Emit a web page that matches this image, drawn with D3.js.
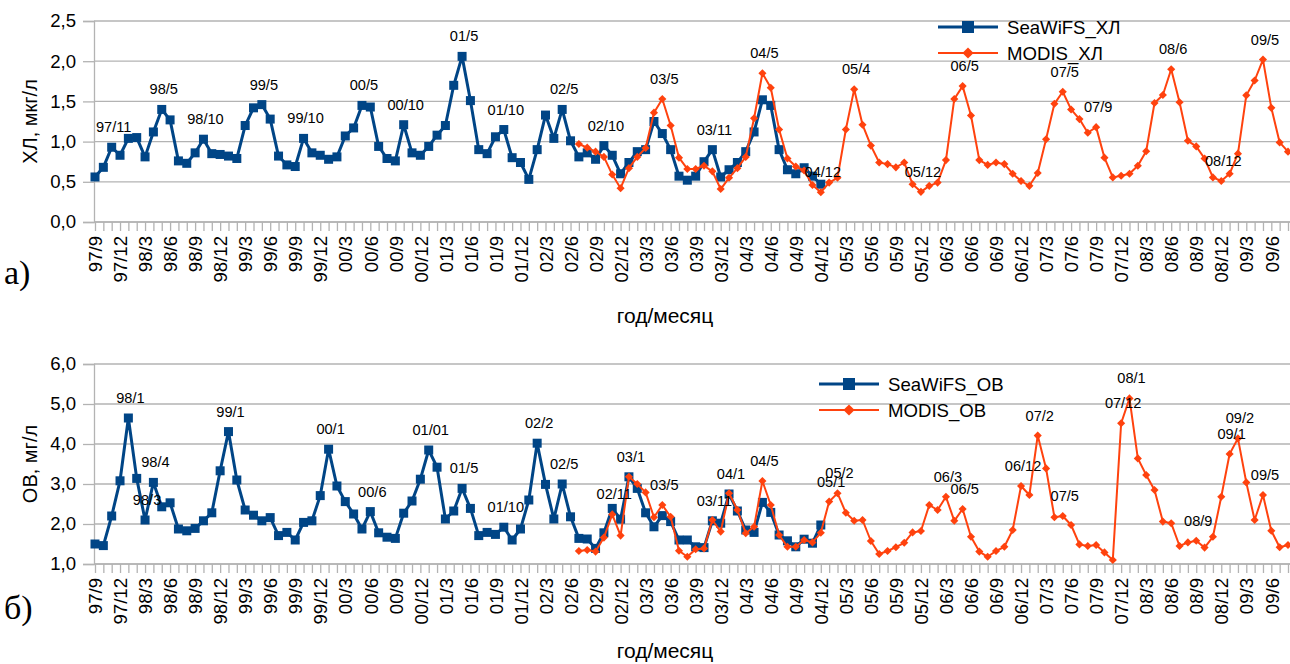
<!DOCTYPE html>
<html>
<head>
<meta charset="utf-8">
<script src="https://cdn.jsdelivr.net/npm/d3@7"></script>
<style>
  body { margin: 0; background: #fff; }
  svg { display: block; font-family: "Liberation Sans", Arial, sans-serif; }
  .grid line { stroke: #b3b3b3; stroke-width: 1.3; }
  .axis path, .axis line { stroke: #b3b3b3; stroke-width: 1.3; }
  .axis text { fill: #000; font-size: 18.6px; }
</style>
</head>
<body>
<div id="chart"></div>
<script>
// months 97/9 .. 09/8, one point per month
var startYear = 97, startMonth = 9, nMonths = 144;
var months = [];
for (var i = 0; i < nMonths; i++) {
  var mm = startMonth - 1 + i;
  var yy = (startYear + Math.floor(mm / 12)) % 100;
  months.push((yy < 10 ? "0" + yy : "" + yy) + "/" + (mm % 12 + 1));
}
// every third month gets a tick label
var tickLabels = months.filter(function(d, i) { return i % 3 === 0; });

// chlorophyll, mkg/l
var seawifsChlStart = "97/9";
var seawifsChl = [0.56,0.68,0.93,0.83,
  1.04,1.05,0.81,1.12,1.40,1.27,0.76,0.73,0.86,1.03,0.85,0.84,
  0.82,0.79,1.20,1.42,1.46,1.28,0.82,0.71,0.69,1.04,0.86,0.83,
  0.78,0.81,1.07,1.17,1.45,1.43,0.94,0.79,0.76,1.21,0.86,0.83,
  0.94,1.08,1.20,1.70,2.06,1.51,0.90,0.85,1.06,1.15,0.80,0.74,
  0.53,0.90,1.33,1.04,1.40,1.01,0.81,0.86,0.78,0.95,0.83,0.60,
  0.74,0.875,0.90,1.25,1.10,0.90,0.57,0.52,0.57,0.75,0.90,0.56,
  0.65,0.74,0.875,1.12,1.52,1.45,0.90,0.65,0.60,0.675,0.57,0.47];
var modisChlStart = "02/7";
var modisChl = [0.97,0.925,0.875,0.81,0.59,0.42,
  0.67,0.81,0.92,1.36,1.53,1.20,0.80,0.66,0.66,0.70,0.63,0.41,
  0.55,0.67,0.81,1.29,1.85,1.67,1.15,0.79,0.69,0.64,0.46,0.37,
  0.49,0.55,1.15,1.65,1.21,0.95,0.74,0.72,0.68,0.74,0.47,0.375,
  0.45,0.49,0.77,1.53,1.69,1.325,0.77,0.71,0.74,0.72,0.60,0.51,
  0.45,0.61,1.03,1.47,1.62,1.40,1.28,1.11,1.18,0.80,0.555,0.575,
  0.60,0.70,0.88,1.48,1.58,1.90,1.49,1.01,0.94,0.79,0.555,0.51,
  0.60,0.85,1.575,1.76,2.02,1.42,0.99,0.875];

// organic matter, mg/l
var seawifsOvStart = "97/9";
var seawifsOv = [1.50,1.46,2.20,3.08,
  4.65,3.14,2.10,3.04,2.43,2.53,1.875,1.83,1.89,2.08,2.28,3.33,
  4.31,3.10,2.35,2.22,2.08,2.16,1.71,1.79,1.60,2.04,2.08,2.71,
  3.87,2.95,2.56,2.25,1.875,2.31,1.78,1.67,1.64,2.27,2.575,3.12,
  3.85,3.42,2.125,2.325,2.89,2.39,1.71,1.79,1.74,1.92,1.60,1.875,
  2.60,4.02,2.99,2.125,3.00,2.18,1.64,1.625,1.39,1.78,2.39,2.12,
  3.18,2.89,2.28,1.93,2.21,2.06,1.60,1.60,1.43,1.41,2.08,2.02,
  2.75,2.325,1.85,1.79,2.54,2.29,1.725,1.58,1.43,1.62,1.52,1.975];
var modisOvStart = "02/7";
var modisOv = [1.325,1.35,1.31,1.66,2.24,1.71,
  3.18,3.00,2.79,2.17,2.475,2.18,1.33,1.18,1.37,1.39,2.10,1.81,
  2.77,2.35,1.77,1.93,3.075,2.475,1.725,1.43,1.43,1.60,1.54,1.78,
  2.56,2.77,2.28,2.08,2.10,1.575,1.25,1.325,1.42,1.53,1.79,1.825,
  2.475,2.35,2.68,2.08,2.375,1.68,1.31,1.18,1.325,1.43,1.85,2.95,
  2.725,4.21,3.39,2.17,2.20,1.975,1.49,1.45,1.475,1.29,1.10,4.52,
  5.14,3.64,3.225,2.85,2.06,2.02,1.45,1.54,1.58,1.41,1.68,2.68,
  3.75,4.14,3.04,2.10,2.725,1.83,1.42,1.475];

// point annotations: [month, text]
var chlSeaLabels = [["97/11","97/11"],["98/5","98/5"],["98/10","98/10"],["99/5","99/5"],
  ["99/10","99/10"],["00/5","00/5"],["00/10","00/10"],["01/5","01/5"],["01/10","01/10"],
  ["02/5","02/5"],["02/10","02/10"],["03/11","03/11"]];
var chlModisLabels = [["03/5","03/5"],["04/5","04/5"],["04/12","04/12"],["05/4","05/4"],
  ["05/12","05/12"],["06/5","06/5"],["07/5","07/5"],["07/9","07/9"],["08/6","08/6"],
  ["08/12","08/12"],["09/5","09/5"]];
var ovSeaLabels = [["98/1","98/1"],["98/3","98/3"],["98/4","98/4"],["99/1","99/1"],
  ["00/1","00/1"],["00/6","00/6"],["01/1","01/01"],["01/5","01/5"],["01/10","01/10"],
  ["02/2","02/2"],["02/5","02/5"],["03/11","03/11"],["04/1","04/1"]];
var ovModisLabels = [["02/11","02/11"],["03/1","03/1"],["03/5","03/5"],["04/5","04/5"],
  ["05/1","05/1"],["05/2","05/2"],["06/3","06/3"],["06/5","06/5"],["06/12","06/12"],
  ["07/2","07/2"],["07/5","07/5"],["07/12","07/12"],["08/1","08/1"],["08/9","08/9"],
  ["09/1","09/1"],["09/2","09/2"],["09/5","09/5"]];

var blue = "#004586", orange = "#ff420e";

var W = 1290, H = 664;
var svg = d3.select("#chart").append("svg")
  .attr("width", W).attr("height", H);

var x = d3.scalePoint().domain(months).range([95, 1288]);
var fmt = function(v) { return d3.format(".1f")(v).replace(".", ","); };

function series(start, values) {
  var i0 = months.indexOf(start);
  return values.map(function(v, i) { return {m: months[i0 + i], v: v}; });
}

function panel(opt) {
  var y = d3.scaleLinear().domain(opt.domain).range([opt.bottom, opt.top]);
  var g = svg.append("g");

  // horizontal grid
  g.append("g").attr("class", "grid")
    .selectAll("line").data(opt.ticks).enter().append("line")
    .attr("x1", 94).attr("x2", W)
    .attr("y1", function(d) { return y(d); }).attr("y2", function(d) { return y(d); });

  // y axis
  g.append("g").attr("class", "axis").attr("transform", "translate(94,0)")
    .call(d3.axisLeft(y).tickValues(opt.ticks).tickSize(11).tickPadding(7).tickFormat(fmt));

  // x axis
  var xa = g.append("g").attr("class", "axis").attr("transform", "translate(0," + opt.bottom + ")")
    .call(d3.axisBottom(x).tickSize(9).tickSizeOuter(0)
      .tickFormat(function(d) { return tickLabels.indexOf(d) >= 0 ? d : ""; }));
  xa.selectAll("text")
    .attr("transform", "rotate(-90)")
    .attr("x", -14).attr("y", 0).attr("dy", "0.36em")
    .style("text-anchor", "end");
  xa.select(".domain").attr("d", "M94,0H" + W);

  var line = d3.line().x(function(d) { return x(d.m); }).y(function(d) { return y(d.v); });

  // SeaWiFS
  var sea = series(opt.seaStart, opt.sea);
  g.append("path").datum(sea).attr("d", line)
    .attr("fill", "none").attr("stroke", blue).attr("stroke-width", 3).attr("stroke-linejoin", "round");
  g.append("g").selectAll("rect").data(sea).enter().append("rect")
    .attr("x", function(d) { return x(d.m) - 4.5; }).attr("y", function(d) { return y(d.v) - 4.5; })
    .attr("width", 9).attr("height", 9).attr("fill", blue);

  // MODIS
  var mod = series(opt.modStart, opt.mod);
  g.append("path").datum(mod).attr("d", line)
    .attr("fill", "none").attr("stroke", orange).attr("stroke-width", 2).attr("stroke-linejoin", "round");
  var diamond = d3.symbol().type(d3.symbolDiamond2).size(42);
  g.append("g").selectAll("path").data(mod).enter().append("path")
    .attr("d", diamond)
    .attr("transform", function(d) { return "translate(" + x(d.m) + "," + y(d.v) + ")"; })
    .attr("fill", orange);

  // annotations
  function annotate(labels, data) {
    g.append("g").selectAll("text").data(labels).enter().append("text")
      .attr("x", function(d) { return x(d[0]) + 2; })
      .attr("y", function(d) {
        var p = data.filter(function(e) { return e.m === d[0]; })[0];
        return y(p.v) - 15;
      })
      .attr("text-anchor", "middle")
      .style("font-size", "14.6px").attr("fill", "#000")
      .text(function(d) { return d[1]; });
  }
  annotate(opt.seaLabels, sea);
  annotate(opt.modLabels, mod);

  // axis titles
  g.append("text")
    .attr("transform", "translate(37," + ((opt.top + opt.bottom) / 2) + ") rotate(-90)")
    .attr("text-anchor", "middle").style("font-size", "20px")
    .text(opt.yTitle);
  g.append("text")
    .attr("x", 665).attr("y", opt.xTitleY)
    .attr("text-anchor", "middle").style("font-size", "21px")
    .text("год/месяц");
  g.append("text")
    .attr("x", 4).attr("y", opt.letterY)
    .style("font-family", "'Liberation Serif', 'Times New Roman', serif").style("font-size", "34px")
    .text(opt.letter);

  // legend
  var lg = g.append("g").attr("transform", "translate(" + opt.legend[0] + "," + opt.legend[1] + ")");
  lg.append("line").attr("x1", 0).attr("x2", 60).attr("y1", 0).attr("y2", 0)
    .attr("stroke", blue).attr("stroke-width", 3);
  lg.append("rect").attr("x", 24).attr("y", -6).attr("width", 12).attr("height", 12).attr("fill", blue);
  lg.append("text").attr("x", 69).attr("y", 7).style("font-size", "18.6px").text(opt.seaName);
  lg.append("line").attr("x1", 0).attr("x2", 60).attr("y1", 26).attr("y2", 26)
    .attr("stroke", orange).attr("stroke-width", 2);
  lg.append("path").attr("d", d3.symbol().type(d3.symbolDiamond2).size(80))
    .attr("transform", "translate(30,26)").attr("fill", orange);
  lg.append("text").attr("x", 69).attr("y", 33).style("font-size", "18.6px").text(opt.modName);
}

panel({
  domain: [0, 2.5], ticks: [0, 0.5, 1, 1.5, 2, 2.5], top: 21, bottom: 222,
  seaStart: seawifsChlStart, sea: seawifsChl, modStart: modisChlStart, mod: modisChl,
  seaLabels: chlSeaLabels, modLabels: chlModisLabels,
  yTitle: "ХЛ, мкг/л", xTitleY: 323, letter: "а)", letterY: 284,
  legend: [938, 27], seaName: "SeaWiFS_ХЛ", modName: "MODIS_ХЛ"
});

panel({
  domain: [1, 6], ticks: [1, 2, 3, 4, 5, 6], top: 364, bottom: 564,
  seaStart: seawifsOvStart, sea: seawifsOv, modStart: modisOvStart, mod: modisOv,
  seaLabels: ovSeaLabels, modLabels: ovModisLabels,
  yTitle: "ОВ, мг/л", xTitleY: 658, letter: "б)", letterY: 619,
  legend: [819, 384], seaName: "SeaWiFS_ОВ", modName: "MODIS_ОВ"
});
</script>
</body>
</html>
